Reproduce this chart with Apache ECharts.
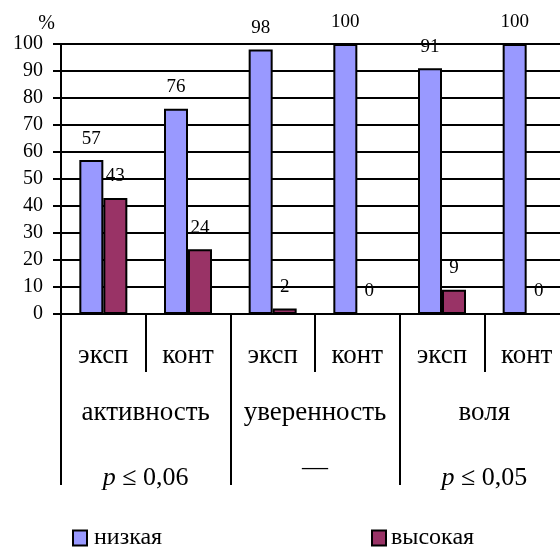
<!DOCTYPE html>
<html><head><meta charset="utf-8">
<script src="https://cdn.jsdelivr.net/npm/echarts@6/dist/echarts.min.js"></script>
<style>html,body{margin:0;padding:0;background:#fff}#c{width:560px;height:547px}</style>
</head><body><div id="c"></div>
<script>
const groups = ['эксп','конт','эксп','конт','эксп','конт'];
const scales = ['активность','уверенность','воля'];
const significance = ['p ≤ 0,06','—','p ≤ 0,05'];
const seriesNames = ['низкая','высокая'];
const low = [57,76,98,100,91,100];
const high = [43,24,2,0,9,0];
const yMin = 0, yMax = 100, yStep = 10;

const F = 'Liberation Serif';
const grid = {left:61, right:-9, top:44, bottom:233, outerBoundsMode:'none'};
const black = '#000';
const chart = echarts.init(document.getElementById('c'));
function sig(v){
  if (v.indexOf('p ') === 0) return '{i|p}{n|' + v.slice(1) + '}';
  return '{d|' + v + '}';
}
chart.setOption({
  animation:false,
  grid:[Object.assign({},grid),Object.assign({},grid),Object.assign({},grid)],
  xAxis:[
    {type:'category', gridIndex:0, data:groups, position:'bottom',
     axisLine:{show:true,lineStyle:{color:black,width:2}},
     axisTick:{show:true,interval:0,alignWithLabel:false,length:58, lineStyle:{color:black,width:2}},
     axisLabel:{interval:0, margin:28, fontSize:27, fontFamily:F, color:black}},
    {type:'category', gridIndex:1, data:scales, position:'bottom',
     axisLine:{show:true,lineStyle:{color:black,width:2}},
     axisTick:{show:true,interval:0,alignWithLabel:false,length:171, lineStyle:{color:black,width:2}},
     axisLabel:{interval:0, margin:85, fontSize:27, fontFamily:F, color:black}},
    {type:'category', gridIndex:2, data:significance, position:'bottom',
     axisLine:{show:false}, axisTick:{show:false},
     axisLabel:{interval:0, margin:141, fontSize:26, fontFamily:F, color:black,
       formatter:sig,
       rich:{i:{fontStyle:'italic',fontSize:26,fontFamily:F,color:black,padding:[10,0,0,0]},
             n:{fontSize:26,fontFamily:F,color:black,padding:[10,0,0,0]},
             d:{fontSize:26,fontFamily:F,color:black}}}}
  ],
  yAxis:[
    {type:'value', gridIndex:0, min:yMin, max:yMax, interval:yStep,
     name:'%', nameLocation:'end', nameGap:7,
     nameTextStyle:{fontSize:20,fontFamily:F,color:black,align:'right',padding:[0,6,0,0]},
     axisLine:{show:true,lineStyle:{color:black,width:2}},
     axisTick:{show:true,length:8,lineStyle:{color:black,width:2}},
     splitLine:{show:true,lineStyle:{color:black,width:2}},
     axisLabel:{margin:18,fontSize:20,fontFamily:F,color:black}},
    {type:'value', gridIndex:1, min:yMin, max:yMax, show:false},
    {type:'value', gridIndex:2, min:yMin, max:yMax, show:false}
  ],
  legend:[
    {data:[seriesNames[0]], left:67, top:521, icon:'rect', itemWidth:14, itemHeight:15,
     itemStyle:{borderColor:black,borderWidth:2},
     textStyle:{fontSize:24,fontFamily:F,color:black,padding:[0,0,0,2]}},
    {data:[seriesNames[1]], left:366, top:521, icon:'rect', itemWidth:14, itemHeight:15,
     itemStyle:{borderColor:black,borderWidth:2},
     textStyle:{fontSize:24,fontFamily:F,color:black,padding:[0,0,0,0]}}
  ],
  series:[
    {name:seriesNames[0], type:'bar', data:low, barWidth:24, barGap:'0%',
     itemStyle:{color:'#9999FF',borderColor:black,borderWidth:2},
     label:{show:true,position:'top',distance:12,fontSize:19,fontFamily:F,color:black}},
    {name:seriesNames[1], type:'bar', data:high, barWidth:24, barGap:'0%',
     itemStyle:{color:'#993366',borderColor:black,borderWidth:2},
     label:{show:true,position:'top',distance:12,fontSize:19,fontFamily:F,color:black}}
  ]
});
</script></body></html>
